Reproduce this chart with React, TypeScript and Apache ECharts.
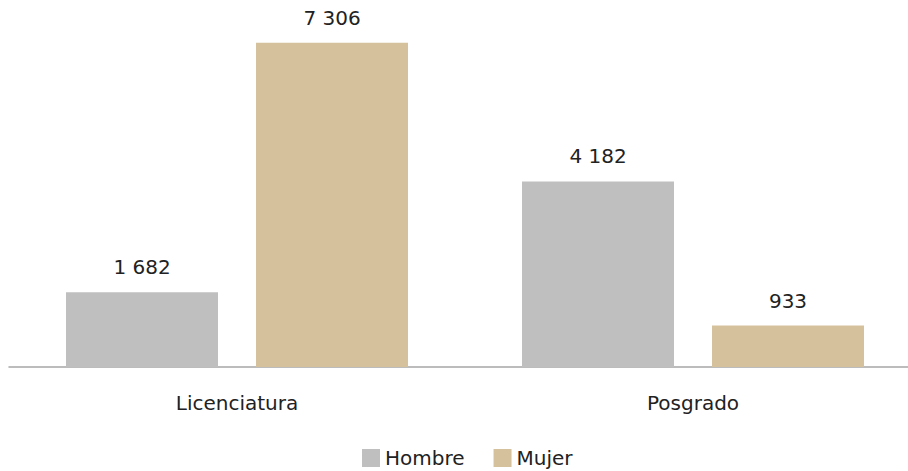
import React, { useEffect, useRef } from "react";
import * as echarts from "echarts";

const categories = ["Licenciatura", "Posgrado"];
const hombre = [1682, 4182];
const mujer = [7306, 933];
const seriesNames = ["Hombre", "Mujer"];

const fmt = (v: number) => String(v).replace(/\B(?=(\d{3})+(?!\d))/g, " ");

export default function App() {
  const ref = useRef<HTMLDivElement>(null);
  useEffect(() => {
    if (!ref.current) return;
    const chart = echarts.init(ref.current, undefined, { renderer: "svg" });
    const font = "'DejaVu Sans', sans-serif";
    const txt = { fontSize: 20, color: "#222", fontFamily: font, fontWeight: "normal" as const };
    chart.setOption({
      animation: false,
      textStyle: { fontFamily: font },
      legend: {
        data: seriesNames,
        left: 362,
        top: 448,
        padding: 0,
        itemWidth: 18,
        itemHeight: 18,
        itemGap: 29,
        icon: "rect",
        textStyle: { ...txt },
      },
      grid: { left: 9, width: 912, top: 12, height: 355 },
      xAxis: {
        type: "category",
        data: categories,
        axisLine: { lineStyle: { color: "#a6a6a6", width: 1.5 } },
        axisTick: { show: false },
        axisLabel: { ...txt, margin: 26 },
      },
      yAxis: {
        type: "value",
        min: 0,
        max: 8000,
        show: false,
        splitLine: { show: false },
      },
      series: [
        {
          name: seriesNames[0],
          type: "bar",
          data: hombre,
          barGap: "25%",
          barCategoryGap: "25%",
          itemStyle: { color: "#bfbfbf" },
          label: {
            show: true,
            position: "top",
            distance: 15,
            ...txt,
            formatter: (p: any) => fmt(p.value),
          },
        },
        {
          name: seriesNames[1],
          type: "bar",
          data: mujer,
          itemStyle: { color: "#d5c19b" },
          label: {
            show: true,
            position: "top",
            distance: 15,
            ...txt,
            formatter: (p: any) => fmt(p.value),
          },
        },
      ],
    });
    return () => chart.dispose();
  }, []);
  return (
    <div
      ref={ref}
      style={{ position: "absolute", left: 0, top: 0, width: 930, height: 471 }}
    />
  );
}
